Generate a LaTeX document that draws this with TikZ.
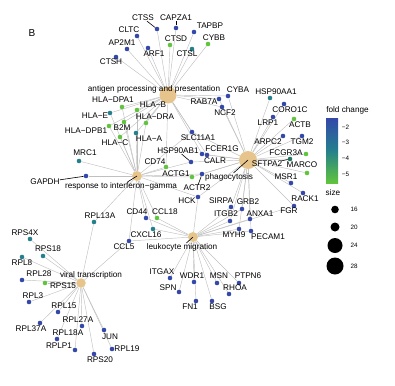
\documentclass[tikz,border=0pt]{standalone}
\usepackage{fontspec}
\setmainfont{Liberation Sans}
\usetikzlibrary{backgrounds}
\definecolor{hubtan}{RGB}{230,196,140}
\definecolor{fcblue}{RGB}{52,72,170}
\definecolor{fcteal}{RGB}{36,128,140}
\definecolor{fcgreen}{RGB}{96,196,60}
\definecolor{fcdark}{RGB}{30,118,96}
\definecolor{edgegray}{RGB}{192,192,192}
\newcommand\gene[5]{\node[dot, fill=#2] (#1) at (#3) {};
  \node[lbl] (#1t) at (#4) {#5};}
\tikzset{
  dot/.style={circle, inner sep=0pt, minimum size=4.6pt},
  hub/.style={circle, fill=hubtan, inner sep=0pt},
  lbl/.style={inner sep=0pt, font=\fontsize{8.2}{9}\selectfont},
  tick/.style={inner sep=0pt, font=\fontsize{6.3}{7}\selectfont},
  link/.style={color=edgegray, line width=0.45pt},
  lead/.style={draw=black, line width=0.6pt},
}

\begin{document}
\begin{tikzpicture}[x=1pt, y=-1pt]
\useasboundingbox (0,0) rectangle (395,385);
\node[inner sep=0pt, font=\fontsize{10}{12}\selectfont] (panel) at (32,33) {B};

\node[hub, minimum size=17pt] (ant) at (168,95) {};
\node[hub, minimum size=10pt] (ifn) at (137,176) {};
\node[hub, minimum size=18pt] (pha) at (248,160) {};
\node[hub, minimum size=10pt] (leu) at (193,237) {};
\node[hub, minimum size=9.5pt] (vir) at (81,283) {};

\gene{ctss}{fcblue}{157,29}{143,18}{CTSS}
\gene{capza1}{fcblue}{176,28}{176,18}{CAPZA1}
\gene{cltc}{fcblue}{137,36}{129,30}{CLTC}
\gene{ap2m1}{fcblue}{127,49}{122,43}{AP2M1}
\gene{arf1}{fcblue}{148,48}{154,54}{ARF1}
\gene{ctsd}{fcgreen}{170,45}{176,39}{CTSD}
\gene{ctsh}{fcblue}{116,57}{111,62}{CTSH}
\gene{ctsl}{fcteal}{192,49}{187,54}{CTSL}
\gene{tapbp}{fcblue}{194,32}{210,26}{TAPBP}
\gene{cybb}{fcgreen}{208,44}{214,38}{CYBB}
\gene{cyba}{fcblue}{228,96}{238,90}{CYBA}
\gene{rab7a}{fcblue}{219,99}{204,102}{RAB7A}
\gene{ncf2}{fcblue}{222,107}{225,113}{NCF2}
\gene{hladpa}{fcgreen}{122,107}{113,100}{HLA−DPA1}
\gene{hlab}{fcgreen}{137,110}{153,105}{HLA−B}
\gene{hlae}{fcteal}{110,113}{95,116}{HLA−E}
\gene{hladra}{fcgreen}{146,123}{155,117}{HLA−DRA}
\gene{hladpb}{fcgreen}{109,126}{86,131}{HLA−DPB1}
\gene{b2m}{fcgreen}{124,122}{122,128}{B2M}
\gene{hlac}{fcgreen}{120,137}{115,143}{HLA−C}
\gene{hlaa}{fcteal}{136,133}{149,139}{HLA−A}

\gene{mrc1}{fcteal}{79,161}{85,153}{MRC1}
\gene{gapdh}{fcblue}{86,176}{45,182}{GAPDH}
\gene{cd74}{fcgreen}{166,167}{155,162}{CD74}
\gene{hspab}{fcblue}{191,162}{178,151}{HSP90AB1}
\gene{slc}{fcblue}{192,132}{198,138}{SLC11A1}
\gene{fcer}{fcblue}{207,155}{222,149}{FCER1G}
\gene{calr}{fcblue}{202,154}{215,161}{CALR}
\gene{actg1}{fcgreen}{192,177}{176,174}{ACTG1}
\gene{actr2}{fcblue}{202,174}{197,188}{ACTR2}
\gene{rpl13a}{fcteal}{94,222}{100,216}{RPL13A}
\gene{cd44}{fcblue}{146,218}{137,212}{CD44}
\gene{ccl18}{fcgreen}{157,218}{165,212}{CCL18}
\gene{cxcl}{fcteal}{153,229}{146,235}{CXCL16}
\gene{ccl5}{fcblue}{129,241}{124,247}{CCL5}

\gene{hspaa}{fcteal}{270,98}{276,92}{HSP90AA1}
\gene{coro}{fcblue}{284,104}{290,110}{CORO1C}
\gene{lrp1}{fcblue}{273,117}{268,123}{LRP1}
\gene{actb}{fcgreen}{294,119}{300,125}{ACTB}
\gene{arpc2}{fcblue}{283,136}{268,142}{ARPC2}
\gene{tgm2}{fcblue}{302,136}{302,142}{TGM2}
\gene{fcgr}{fcgreen}{306,154}{286,153}{FCGR3A}
\gene{sftpa}{fcdark}{290,159}{267,164}{SFTPA2}
\gene{marco}{fcgreen}{307,173}{302,165}{MARCO}
\gene{msr1}{fcblue}{291,183}{286,177}{MSR1}
\gene{rack1}{fcblue}{303,193}{305,199}{RACK1}
\gene{fgr}{fcblue}{294,206}{289,211}{FGR}
\gene{hck}{fcblue}{198,197}{187,201}{HCK}
\gene{sirpa}{fcblue}{231,207}{221,201}{SIRPA}
\gene{grb2}{fcblue}{242,209}{248,202}{GRB2}
\gene{itgb2}{fcblue}{230,221}{226,214}{ITGB2}
\gene{anxa1}{fcblue}{250,219}{260,214}{ANXA1}
\gene{myh9}{fcblue}{239,229}{234,235}{MYH9}
\gene{pecam}{fcblue}{251,231}{268,237}{PECAM1}

\gene{itgax}{fcblue}{170,278}{162,272}{ITGAX}
\gene{spn}{fcblue}{179,292}{168,288}{SPN}
\gene{wdr1}{fcblue}{194,282}{192,276}{WDR1}
\gene{fn1}{fcblue}{196,301}{190,307}{FN1}
\gene{msn}{fcblue}{217,283}{219,276}{MSN}
\gene{bsg}{fcblue}{212,301}{218,307}{BSG}
\gene{ptpn6}{fcblue}{239,283}{248,276}{PTPN6}
\gene{rhoa}{fcblue}{229,294}{235,288}{RHOA}

\gene{rps4x}{fcteal}{30,239}{25,233}{RPS4X}
\gene{rps18}{fcteal}{43,256}{48,249}{RPS18}
\gene{rpl8}{fcteal}{22,257}{22,263}{RPL8}
\gene{rpl28}{fcblue}{22,280}{39,274}{RPL28}
\gene{rps15}{fcgreen}{45,283}{63,286}{RPS15}
\gene{rpl3}{fcblue}{29,302}{33,296}{RPL3}
\gene{rpl15}{fcblue}{58,312}{64,306}{RPL15}
\gene{rpl37a}{fcblue}{40,323}{31,329}{RPL37A}
\gene{rpl27a}{fcblue}{82,326}{78,320}{RPL27A}
\gene{rpl18a}{fcblue}{57,339}{68,333}{RPL18A}
\gene{rplp1}{fcblue}{75,350}{59,346}{RPLP1}
\gene{rps20}{fcblue}{94,354}{100,360}{RPS20}
\gene{jun}{fcblue}{104,330}{110,337}{JUN}
\gene{rpl19}{fcblue}{112,349}{127,349}{RPL19}

\begin{scope}[on background layer]
\path[link] (ant) edge (ctss) edge (capza1) edge (cltc) edge (ap2m1) edge (arf1) edge (ctsd) edge (ctsh) edge (ctsl) edge (tapbp) edge (cybb) edge (cyba) edge (rab7a) edge (ncf2) edge (hladpa) edge (hlab) edge (hlae) edge (hladra) edge (hladpb) edge (b2m) edge (hlac) edge (hlaa) edge (cd74) edge (slc) edge (fcer) edge (calr);
\path[link] (ifn) edge (hladpa) edge (hlab) edge (hlae) edge (hladra) edge (hladpb) edge (b2m) edge (hlac) edge (hlaa) edge (mrc1) edge (gapdh) edge (cd74) edge (slc) edge (hspab) edge (actg1) edge (actr2) edge (hck) edge (rpl13a) edge (cd44) edge (ccl18) edge (cxcl) edge (ccl5);
\path[link] (pha) edge (cyba) edge (ncf2) edge (rab7a) edge (hspaa) edge (coro) edge (lrp1) edge (actb) edge (arpc2) edge (tgm2) edge (fcgr) edge (sftpa) edge (marco) edge (msr1) edge (rack1) edge (fgr) edge (slc) edge (fcer) edge (calr) edge (hspab) edge (actg1) edge (actr2) edge (hck) edge (sirpa) edge (grb2) edge (itgb2) edge (anxa1) edge (myh9) edge (pecam);
\path[link] (leu) edge (cd44) edge (ccl18) edge (cxcl) edge (ccl5) edge (itgax) edge (spn) edge (wdr1) edge (fn1) edge (msn) edge (bsg) edge (ptpn6) edge (rhoa) edge (sirpa) edge (grb2) edge (itgb2) edge (anxa1) edge (myh9) edge (pecam) edge (hck) edge (fgr);
\path[link] (vir) edge (rps4x) edge (rps18) edge (rpl8) edge (rpl28) edge (rps15) edge (rpl3) edge (rpl15) edge (rpl37a) edge (rpl27a) edge (rpl18a) edge (rplp1) edge (rps20) edge (jun) edge (rpl19) edge (rpl13a) edge (ccl5);
\end{scope}

\node[lbl] (antt) at (154,89) {antigen processing and presentation};
\node[lbl] (ifnt) at (121,186) {response to interferon−gamma};
\node[lbl] (phat) at (229,177) {phagocytosis};
\node[lbl] (leut) at (182,247) {leukocyte migration};
\node[lbl] (virt) at (91,275) {viral transcription};

\draw[lead] (ctsst) -- (ctss);
\draw[lead] (capza1t) -- (capza1);
\draw[lead] (gapdht) -- (gapdh);
\draw[lead] (hspabt) -- (hspab);
\draw[lead] (actr2t) -- (actr2);
\draw[lead] (sftpat) -- (sftpa);
\draw[lead] (ifnt) -- (ifn.center);
\draw[lead] (phat) -- (pha.center);
\draw[lead] (leut) -- (leu.center);

\node[lbl] (fctitle) at (347.5,110) {fold change};
\node[inner sep=0pt, minimum width=12pt, minimum height=65pt, top color=fcblue, bottom color=fcgreen, middle color=fcteal] (cbar) at (332,150.5) {};
\node[tick] (tk2) at (345.5,127) {−2};
\node[tick] (tk3) at (345.5,142) {−3};
\node[tick] (tk4) at (345.5,158) {−4};
\node[tick] (tk5) at (345.5,174) {−5};
\node[lbl] (sztitle) at (333,193) {size};
\node[circle, fill=black, inner sep=0pt, minimum size=7.6pt] (sz16) at (335,209.5) {};
\node[circle, fill=black, inner sep=0pt, minimum size=9pt] (sz20) at (335,227) {};
\node[circle, fill=black, inner sep=0pt, minimum size=15pt] (sz24) at (335,245.5) {};
\node[circle, fill=black, inner sep=0pt, minimum size=17pt] (sz28) at (335,266) {};
\node[tick] (sz16t) at (354,209.5) {16};
\node[tick] (sz20t) at (354,227) {20};
\node[tick] (sz24t) at (354,245.5) {24};
\node[tick] (sz28t) at (354,266) {28};
\end{tikzpicture}
\end{document}
